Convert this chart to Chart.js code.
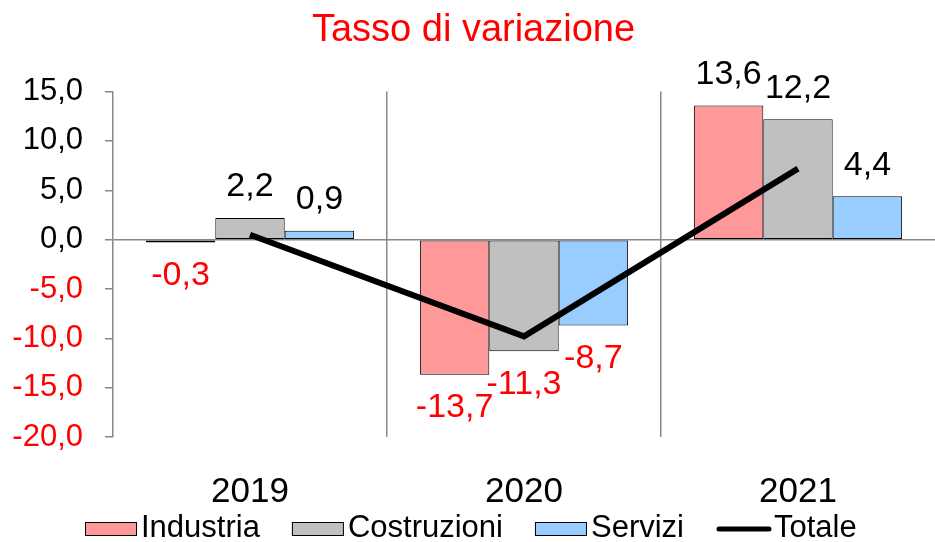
<!DOCTYPE html>
<html><head><meta charset="utf-8">
<script src="https://cdn.jsdelivr.net/npm/chart.js@4/dist/chart.umd.min.js"></script>
<style>html,body{margin:0;padding:0;background:#fff}#wrap{width:935px;height:542px}</style>
</head><body><div id="wrap"><canvas id="c"></canvas></div>
<script>
const categories = ['2019', '2020', '2021'];
const industria = [-0.3, -13.7, 13.6];
const costruzioni = [2.2, -11.3, 12.2];
const servizi = [0.9, -8.7, 4.4];
const totale = [0.5, -9.8, 7.2];
const yTicks = [15, 10, 5, 0, -5, -10, -15, -20];

const FONT = "'Liberation Sans', Arial, sans-serif";
const fmt = v => v.toFixed(1).replace('.', ',');

const barLabels = {
  id: 'barLabels',
  afterDatasetsDraw(chart) {
    const ctx = chart.ctx;
    ctx.save();
    ctx.font = '34px ' + FONT;
    ctx.textAlign = 'center';
    ctx.textBaseline = 'middle';
    chart.data.datasets.forEach((ds, i) => {
      if (ds.type === 'line') return;
      const meta = chart.getDatasetMeta(i);
      meta.data.forEach((el, j) => {
        const v = ds.data[j];
        ctx.fillStyle = v < 0 ? '#ff0000' : '#000000';
        const y = v < 0 ? el.y + 33 : el.y - 31;
        ctx.fillText(fmt(v), el.x, y);
      });
    });
    ctx.restore();
  }
};

const customLegend = {
  id: 'customLegend',
  afterDraw(chart) {
    const ctx = chart.ctx;
    ctx.save();
    ctx.font = '31px ' + FONT;
    ctx.textBaseline = 'middle';
    ctx.textAlign = 'left';
    const cy = 528;
    let x = 85;
    chart.data.datasets.forEach((ds) => {
      if (ds.type === 'line') {
        ctx.strokeStyle = ds.borderColor;
        ctx.lineWidth = 5;
        ctx.lineCap = 'round';
        ctx.beginPath();
        ctx.moveTo(x + 3, cy + 1);
        ctx.lineTo(x + 53, cy + 1);
        ctx.stroke();
        x += 58;
      } else {
        ctx.fillStyle = ds.backgroundColor;
        ctx.fillRect(x, cy - 6, 52, 14);
        ctx.strokeStyle = '#000';
        ctx.lineWidth = 1;
        ctx.strokeRect(x + 0.5, cy - 5.5, 51, 13);
        x += 56;
      }
      ctx.fillStyle = '#000';
      ctx.fillText(ds.label, x, cy);
      x += ctx.measureText(ds.label).width + 32;
    });
    ctx.restore();
  }
};

new Chart(document.getElementById('c'), {
  type: 'bar',
  data: {
    labels: categories,
    datasets: [
      { label: 'Industria', data: industria, backgroundColor: '#FF9999', borderColor: '#000', borderWidth: 1, borderSkipped: false, order: 1 },
      { label: 'Costruzioni', data: costruzioni, backgroundColor: '#C0C0C0', borderColor: '#000', borderWidth: 1, borderSkipped: false, order: 1 },
      { label: 'Servizi', data: servizi, backgroundColor: '#99CCFF', borderColor: '#000', borderWidth: 1, borderSkipped: false, order: 1 },
      { label: 'Totale', type: 'line', data: totale, borderColor: '#000', backgroundColor: '#000', borderWidth: 6, pointRadius: 0, order: 0, tension: 0 }
    ]
  },
  options: {
    responsive: true,
    maintainAspectRatio: false,
    animation: false,
    layout: { padding: { left: 12, right: 0, top: 0, bottom: -5 } },
    datasets: { bar: { categoryPercentage: 0.76, barPercentage: 1 } },
    plugins: {
      title: { display: true, text: 'Tasso di variazione', color: '#ff0000', font: { family: FONT, size: 38, weight: 'normal' }, padding: { top: 8, bottom: 38 } },
      legend: { display: false },
      tooltip: { enabled: false }
    },
    scales: {
      x: {
        offset: true,
        grid: { offset: true, display: true, drawTicks: false, color: c => (c.type === 'tick' && (c.index === 1 || c.index === 2)) ? '#888888' : 'rgba(0,0,0,0)', lineWidth: 1.5 },
        border: { display: false },
        ticks: { color: '#000', font: { family: FONT, size: 35 }, padding: 34 }
      },
      y: {
        min: -20, max: 15,
        afterBuildTicks(axis) { axis.ticks = yTicks.map(v => ({ value: v })); },
        afterFit(axis) { axis.width = 101; },
        grid: { color: c => (c.tick && c.tick.value === 0) ? '#888888' : 'rgba(0,0,0,0)', tickColor: '#888888', tickLength: 8, lineWidth: 1.5 },
        border: { display: true, color: '#888888', width: 1.5 },
        ticks: { color: c => c.tick.value < 0 ? '#ff0000' : '#000000', font: { family: FONT, size: 31 }, padding: 22, callback: v => fmt(v) }
      }
    }
  },
  plugins: [barLabels, customLegend]
});
</script>
</body></html>
